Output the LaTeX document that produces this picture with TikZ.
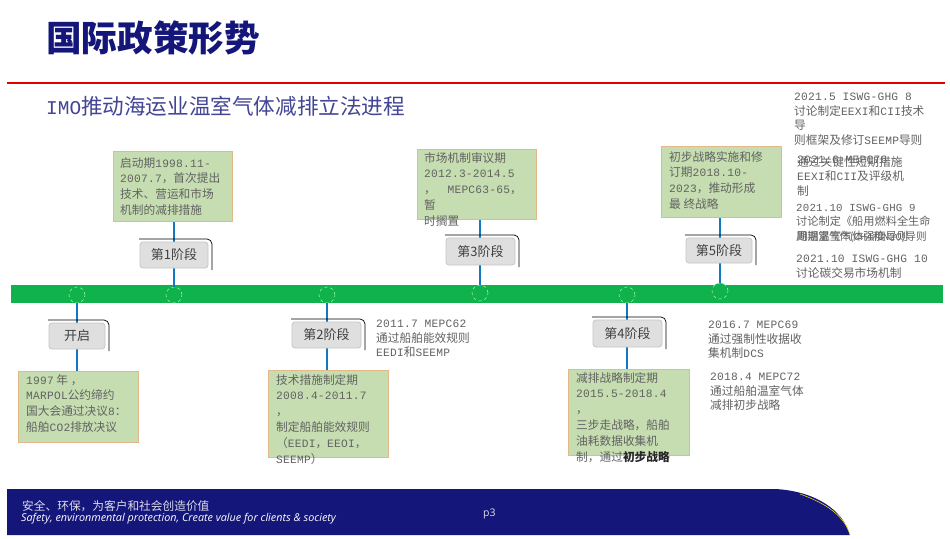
\documentclass[tikz,border=0pt]{standalone}
\usepackage{fontspec}
\setmainfont{Noto Sans CJK SC}
\newfontfamily\latf[LetterSpace=2,Scale=0.96]{Liberation Mono}
\newfontfamily\footf{Open Sans}
\newcommand\la[1]{{\latf #1}}
\definecolor{navy}{HTML}{14167A}
\definecolor{barg}{HTML}{0FB24C}
\definecolor{stem}{HTML}{1478C0}
\definecolor{boxg}{HTML}{C5DDB0}
\definecolor{boxe}{HTML}{E2B98A}
\definecolor{txt}{HTML}{626262}
\tikzset{
 x=1pt,y=-1pt,
 txtblock/.style={anchor=north west,inner sep=0pt,align=left,text=txt,font=\fontsize{11.7}{15.8}\selectfont},
 sidetxt/.style={txtblock,font=\fontsize{11.7}{14.6}\selectfont},
 greenbox/.style={fill=boxg,draw=boxe,line width=1pt},
 stembar/.style={draw=stem,line width=2.4pt},
 stage/.style={fill=gray!25,draw=gray!45,line width=.8pt,rounded corners=3pt,text=black!75,font=\fontsize{13}{15}\selectfont,inner sep=0pt},
 stageback/.style={draw=black,line width=.7pt,rounded corners=5pt},
 dot/.style={circle,fill=barg,draw=green!35!white,dashed,line width=.5pt,minimum size=16pt,inner sep=0pt}
}
\newcommand\stagebox[6]{% name x0 y0 x1 y1 text
 \draw[stageback] (#2-1,#3-3) -- (#4+4,#3-3) -- (#4+4,#5+2);
 \node[stage,minimum width=#4pt-#2pt,minimum height=#5pt-#3pt] (#1) at ({(#2+#4)/2},{(#3+#5)/2}) {#6};
}
\begin{document}
\begin{tikzpicture}
\useasboundingbox (0,0) rectangle (950,538);
\fill[white] (0,0) rectangle (950,538);
% title
\node[anchor=west,inner sep=0pt,text=navy,font=\fontsize{35.6}{40}\selectfont\bfseries] (title) at (46,38) {国际政策形势};
\draw[red!90!black,line width=2.2pt] (7,83) coordinate (ra) -- (945,83) coordinate (rb);
\node[anchor=west,inner sep=0pt,text=navy!80!white,font=\fontsize{21.6}{24}\selectfont] (sub) at (46,106) {{\fontspec{Liberation Mono}[Scale=0.9]IMO}推动海运业温室气体减排立法进程};
% bar
\fill[barg] (11,285) rectangle (943,303);
\node[dot] (d0) at (77,295) {};
\node[dot] (d1) at (174,295) {};
\node[dot] (d2) at (327,295) {};
\node[dot] (d3) at (480,293) {};
\node[dot] (d4) at (627,295) {};
\node[dot] (d5) at (720,291) {};
% green boxes
\node[greenbox,anchor=north west,minimum width=119pt,minimum height=70pt] (b1) at (113,151) {};
\node[greenbox,anchor=north west,minimum width=119pt,minimum height=70pt] (b3) at (417,149) {};
\node[greenbox,anchor=north west,minimum width=120pt,minimum height=71pt] (b5) at (661,146) {};
\node[greenbox,anchor=north west,minimum width=120pt,minimum height=71pt] (b0) at (18,371) {};
\node[greenbox,anchor=north west,minimum width=120pt,minimum height=87pt] (b2) at (268,370) {};
\node[greenbox,anchor=north west,minimum width=121pt,minimum height=86pt] (b4) at (568,369) {};
% stems
\draw[stembar] (b1.south -| d1) -- (d1.north);
\draw[stembar] (b3.south -| d3) -- (d3.north);
\draw[stembar] (b5.south -| d5) -- (d5.north);
\draw[stembar] (d0.south) -- (b0.north -| d0);
\draw[stembar] (d2.south) -- (b2.north -| d2);
\draw[stembar] (d4.south) -- (b4.north -| d4);
% stage boxes
\stagebox{s0}{49}{323}{105}{349}{开启}
\stagebox{s1}{140}{242}{208}{268}{第1阶段}
\stagebox{s2}{292}{322}{361}{348}{第2阶段}
\stagebox{s3}{446}{238}{515}{265}{第3阶段}
\stagebox{s4}{593}{320}{662}{347}{第4阶段}
\stagebox{s5}{686}{238}{752}{263}{第5阶段}
% box texts
\node[txtblock] (t1) at (120,157) {启动期\la{1998.11-}\\\la{2007.7}，首次提出\\技术、营运和市场\\机制的减排措施};
\node[txtblock] (t3) at (424,152) {市场机制审议期\\\la{2012.3-2014.5}\\，\quad\la{MEPC63-65}，\\暂\\时搁置};
\node[txtblock] (t5) at (669,151) {初步战略实施和修\\订期\la{2018.10-}\\\la{2023}，推动形成\\最 终战略};
\node[txtblock] (t0) at (26,374) {\la{1997}\ 年\ ，\\\la{MARPOL}公约缔约\\国大会通过决议\la{8}：\\船舶\la{CO2}排放决议};
\node[txtblock] (t2) at (276,374) {技术措施制定期\\\la{2008.4-2011.7}\\，\\制定船舶能效规则\\（\la{EEDI}，\la{EEOI}，\\\la{SEEMP}）};
\node[txtblock] (t4) at (576,372) {减排战略制定期\\\la{2015.5-2018.4}\\，\\三步走战略，船舶\\油耗数据收集机\\制，通过\textcolor{black!85}{\bfseries 初步战略}};
% side texts
\node[sidetxt] (n1) at (376,320) {\la{2011.7 MEPC62}\\通过船舶能效规则\\\la{EEDI}和\la{SEEMP}};
\node[sidetxt] (n2) at (708,321) {\la{2016.7 MEPC69}\\通过强制性收据收\\集机制\la{DCS}};
\node[sidetxt] (n3) at (710,373) {\la{2018.4 MEPC72}\\通过船舶温室气体\\减排初步战略};
\node[sidetxt] (n4) at (794,93) {\la{2021.5 ISWG-GHG 8}\\讨论制定\la{EEXI}和\la{CII}技术\\导\\则框架及修订\la{SEEMP}导则};
\node[sidetxt] (n5) at (797,156) {通过关键性短期措施\\\la{EEXI}和\la{CII}及评级机\\制};
\node[sidetxt] (n5b) at (797,156) {\la{2021.6 MEPC76}};
\node[sidetxt,font=\fontsize{11.2}{14.6}\selectfont] (n6) at (796,204) {\la{2021.10 ISWG-GHG 9}\\讨论制定《船用燃料全生命\\[-.5pt]周期温室气体强度导则};
\node[sidetxt,font=\fontsize{10.6}{13}\selectfont] (n6b) at (797,231) {期温室气体(\la{CH4}和\la{N2O})导则};
\node[sidetxt] (n7) at (796,255) {\la{2021.10 ISWG-GHG 10}\\讨论碳交易市场机制};
% footer
\fill[navy] (7,489) -- (775,489) .. controls (815,491) and (843,510) .. (850,535) -- (7,535) -- cycle;
\draw[yellow!90!orange,line width=.5pt] (800,494) .. controls (825,503) and (844,515) .. (850,535);
\node[anchor=west,inner sep=0pt,text=white!85!navy,font=\fontsize{11.7}{14}\selectfont] (f1) at (22,506) {安全、环保，为客户和社会创造价值};
\node[anchor=west,inner sep=0pt,text=white,font=\footf\itshape\fontsize{10.8}{12}\selectfont] (f2) at (21,519) {Safety, environmental protection, Create value for clients \& society};
\node[anchor=west,inner sep=0pt,text=white!85!navy,font=\footf\fontsize{10.5}{12}\selectfont] (f3) at (483,514) {p3};
\end{tikzpicture}
\end{document}
